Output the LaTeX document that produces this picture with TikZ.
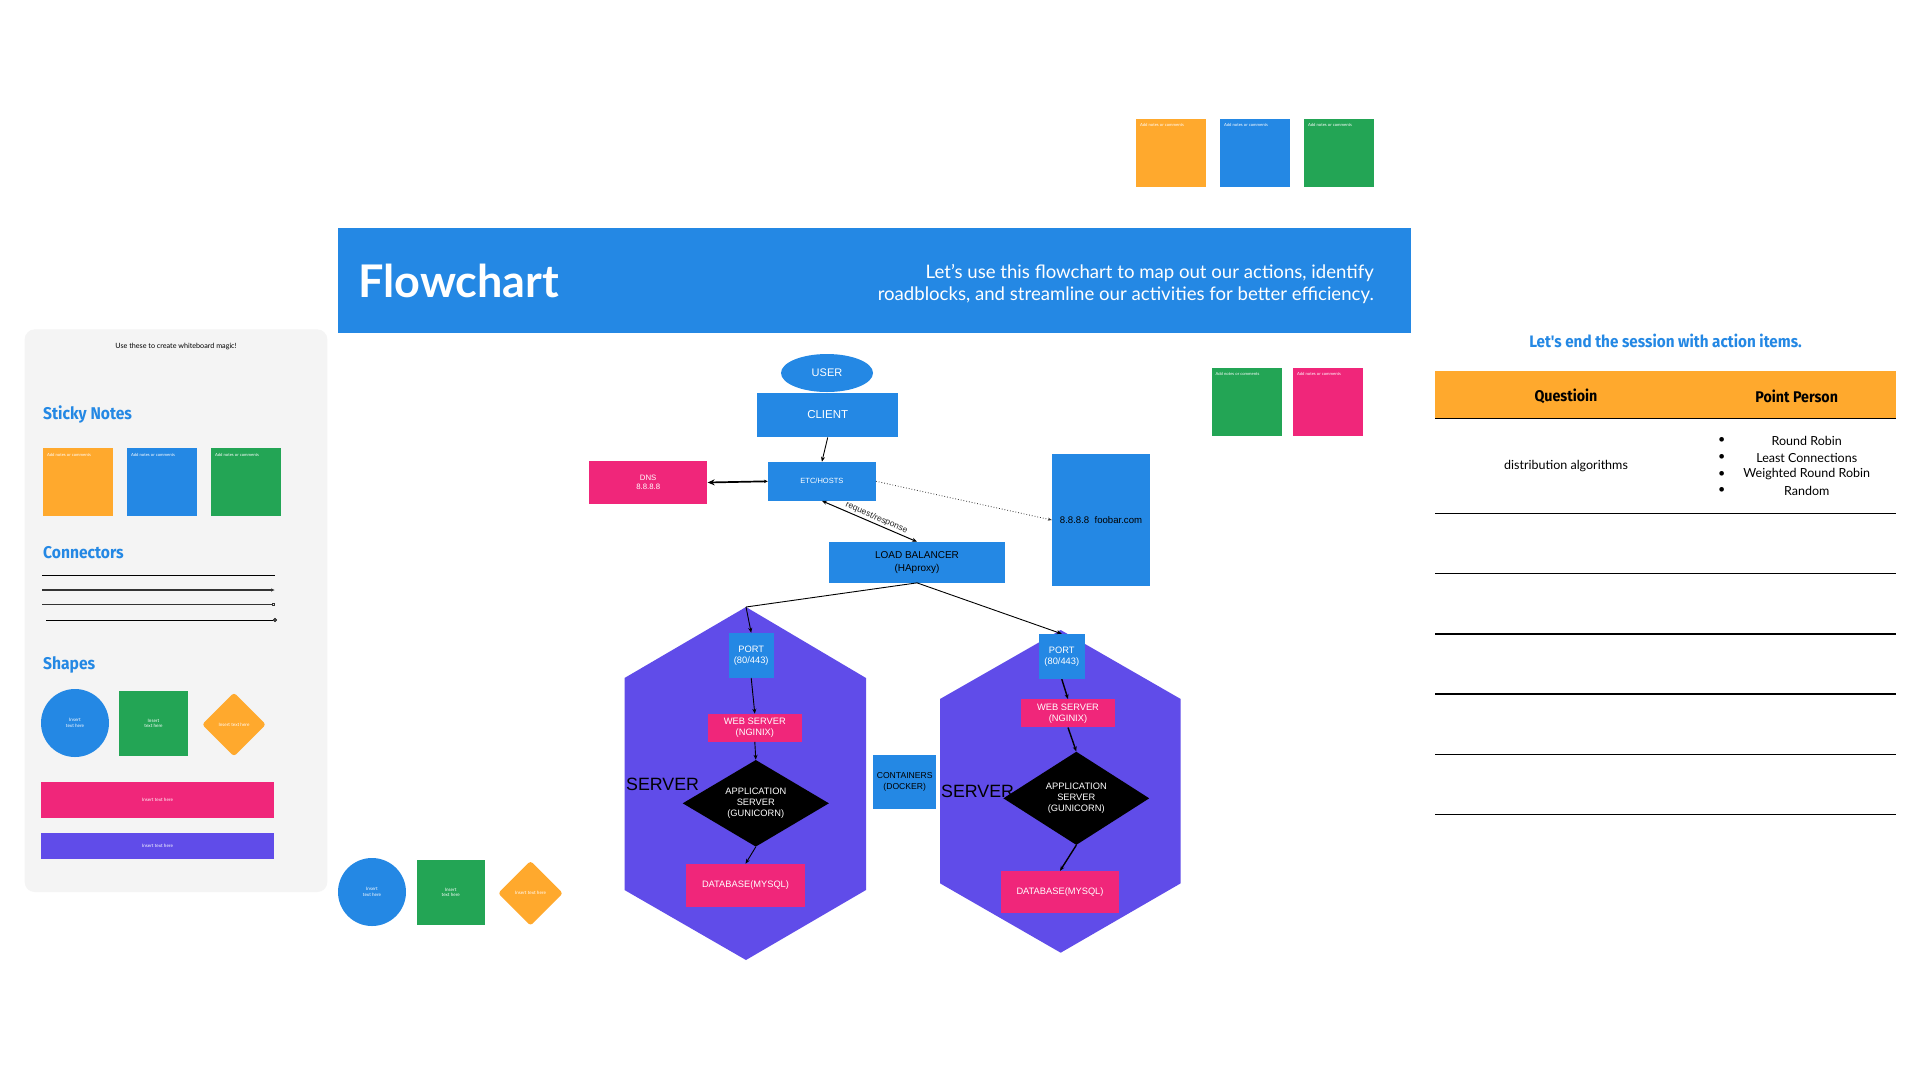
\documentclass[tikz,border=0pt]{standalone}
\usepackage{fontspec}
\setmainfont{Liberation Sans}
\newfontfamily\latofont{Lato}
\newfontfamily\headfont{Fira Sans}[FakeStretch=0.92]
\usetikzlibrary{shapes.geometric,arrows.meta}
\definecolor{mblue}{HTML}{2488E4}
\definecolor{morange}{HTML}{FFA92D}
\definecolor{mgreen}{HTML}{23A555}
\definecolor{mpink}{HTML}{F0267A}
\definecolor{mpurple}{HTML}{604CE9}
\definecolor{mpanel}{HTML}{F4F4F4}
\newcommand{\myfs}[2]{\fontsize{#1}{#2}\selectfont}
\newcommand{\stickynote}[3]{%
  \node[note, fill=#2] (#1) at (#3) {};
  \node[notetxt] (#1t) at ([xshift=4pt,yshift=-5pt]#1.north west) {Add notes or comments};}
\begin{document}
\begin{tikzpicture}[x=1pt,y=-1pt,
  box/.style={rectangle, inner sep=0pt, align=center, text=white},
  note/.style={rectangle, inner sep=0pt, minimum width=70, minimum height=68},
  notetxt/.style={anchor=north west, inner sep=0pt, text=white, font=\myfs{4.2}{5}\latofont},
  smalltxt/.style={text=white, align=center, font=\myfs{4.6}{5.6}\latofont},
  diag/.style={diamond, inner sep=0pt, aspect=1.7, fill=black, text=white, align=center, font=\myfs{9.3}{11}},
  arr/.style={-{Stealth[length=5pt,width=4pt]}, line width=0.9pt},
  twoarr/.style={{Stealth[length=5pt,width=4pt]}-{Stealth[length=5pt,width=4pt]}, line width=1pt},
  rowline/.style={line width=1.3pt},
  headtxt/.style={font=\myfs{17}{20}\headfont\bfseries, text=mblue, inner sep=0pt},
  bodytxt/.style={font=\myfs{12.5}{15}\latofont, inner sep=0pt}
]
\useasboundingbox (0,0) rectangle (1920,1080);
\fill[white] (0,0) rectangle (1920,1080);

% ---------- top sticky notes ----------
\stickynote{tn1}{morange}{1171,152.5}
\stickynote{tn2}{mblue}{1255,152.5}
\stickynote{tn3}{mgreen}{1339,152.5}

% ---------- banner ----------
\fill[mblue] (338,228) rectangle (1411,333);
\node[anchor=west, inner sep=0pt, text=white, font=\myfs{45}{52}\latofont\bfseries] (title) at (358,281) {Flowchart};
\node[anchor=east, inner sep=0pt, align=right, text=white, font=\myfs{18.6}{22}\latofont] (desc) at (1374,284)
  {Let’s use this flowchart to map out our actions, identify\\roadblocks, and streamline our activities for better efficiency.};

% ---------- left panel ----------
\fill[mpanel, rounded corners=10pt] (24.7,329.4) rectangle (327.3,892);
\node[inner sep=0pt, font=\myfs{7.2}{9}\latofont] (magic) at (176,346) {Use these to create whiteboard magic!};
\node[headtxt, anchor=west] (hsticky) at (43,414) {Sticky Notes};
\stickynote{pn1}{morange}{78,482}
\stickynote{pn2}{mblue}{162,482}
\stickynote{pn3}{mgreen}{246,482}
\node[headtxt, anchor=west] (hconn) at (43,553) {Connectors};
\coordinate (c1a) at (42,575);   \coordinate (c1b) at (275,575);
\coordinate (c2a) at (42,590);   \coordinate (c2b) at (275,590);
\coordinate (c3a) at (42,604.5); \coordinate (c3b) at (275,604.5);
\coordinate (c4a) at (46,620);   \coordinate (c4b) at (277,620);
\draw[line width=0.9pt] (c1a) -- (c1b);
\draw[line width=1.3pt, black!80, -{Latex[length=4pt,width=3.5pt]}] (c2a) -- (c2b);
\draw[line width=1.3pt, black!80, -{Square[open,length=3.5pt,width=3.5pt]}] (c3a) -- (c3b);
\draw[line width=0.9pt, -{Circle[open,length=4pt]}] (c4a) -- (c4b);
\node[headtxt, anchor=west] (hshapes) at (43,664.5) {Shapes};
\node[circle, fill=mblue, minimum size=68, inner sep=0pt, smalltxt] (ps1) at (75,723) {Insert\\text here};
\node[rectangle, fill=mgreen, minimum width=69, minimum height=65, inner sep=0pt, smalltxt] (ps2) at (153.5,723.5) {Insert\\text here};
\node[diamond, fill=morange, minimum width=64, minimum height=64, inner sep=0pt, rounded corners=3pt, smalltxt] (ps3) at (234,724.5) {Insert text here};
\node[rectangle, fill=mpink, minimum width=233, minimum height=36, inner sep=0pt, smalltxt] (ps4) at (157.5,800) {Insert text here};
\node[rectangle, fill=mpurple, minimum width=233, minimum height=26, inner sep=0pt, smalltxt] (ps5) at (157.5,846) {Insert text here};

% ---------- bottom-left shapes ----------
\node[circle, fill=mblue, minimum size=68, inner sep=0pt, smalltxt] (bs1) at (372,892) {Insert\\text here};
\node[rectangle, fill=mgreen, minimum width=68, minimum height=65, inner sep=0pt, smalltxt] (bs2) at (450.7,892.3) {Insert\\text here};
\node[diamond, fill=morange, minimum width=65, minimum height=65, inner sep=0pt, rounded corners=3pt, smalltxt] (bs3) at (530.5,893.3) {Insert text here};

% ---------- middle sticky notes ----------
\stickynote{mn1}{mgreen}{1246.5,401.7}
\stickynote{mn2}{mpink}{1328,401.7}

% ---------- hexagons ----------
\coordinate (lhtop) at (746,607);
\fill[mpurple] (lhtop) -- (866,678) -- (866,890) -- (746,960) -- (624.5,890) -- (624.5,678) -- cycle;
\coordinate (rhtop) at (1060.7,630);
\fill[mpurple] (rhtop) -- (1180.7,699) -- (1180.7,883.3) -- (1060.7,952.7) -- (940,883.3) -- (940,699) -- cycle;

% ---------- upper flow ----------
\node[ellipse, fill=mblue, minimum width=92, minimum height=38, inner sep=0pt, text=white, font=\myfs{11}{13}] (user) at (827,373) {USER};
\node[box, fill=mblue, minimum width=140.5, minimum height=44.6, font=\myfs{11.5}{13}] (client) at (827.7,415) {CLIENT};
\node[box, fill=mblue, minimum width=107.7, minimum height=38.7, font=\myfs{7.5}{9}] (etc) at (821.9,481.3) {ETC/HOSTS};
\node[box, fill=mpink, minimum width=118.5, minimum height=42.4, font=\myfs{7.8}{9.5}] (dns) at (648.2,482.5) {DNS\\8.8.8.8};
\node[box, fill=mblue, minimum width=176, minimum height=40.7, text=black, font=\myfs{10}{12.5}] (lb) at (917,562.3) {LOAD BALANCER\\(HAproxy)};
\node[box, fill=mblue, minimum width=98, minimum height=132, text=black, font=\myfs{9.6}{11}] (foo) at (1101,520) {8.8.8.8~~foobar.com};

\draw[arr] (client.south) -- (etc.north);
\draw[line width=1.7pt, {Stealth[length=7pt,width=6pt]}-{Stealth[length=4pt,width=3.5pt]}] (dns.east) -- (etc.west);
\draw[twoarr] (etc.south) -- node[sloped, above, pos=0.55, inner sep=1.5pt, text=black!85, font=\myfs{8.6}{10}] (rr) {request/response} (lb.north);
\draw[dotted, line width=0.8pt, black!80, -{Stealth[length=4pt,width=3pt]}] (etc.east) -- (foo.west);

% ---------- left server ----------
\node[box, fill=mblue, minimum width=45, minimum height=44.7, font=\myfs{9.3}{11}] (lport) at (751.2,655.3) {PORT\\(80/443)};
\node[box, fill=mpink, minimum width=93.7, minimum height=27.7, font=\myfs{9.3}{11}] (lweb) at (754.8,727.8) {WEB SERVER\\(NGINIX)};
\node[anchor=west, inner sep=0pt, font=\myfs{17.8}{20}] (lserver) at (626,784) {SERVER};
\node[diag, minimum width=146.3, minimum height=86.7] (lapp) at (755.8,803.3) {APPLICATION\\SERVER\\(GUNICORN)};
\node[box, fill=mpink, minimum width=119, minimum height=42.7, font=\myfs{9.3}{11}] (ldb) at (745.5,885.3) {DATABASE(MYSQL)};

\draw[line width=0.9pt] (lb.south) -- (lhtop);
\draw[arr] (lhtop) -- (lport.north);
\draw[arr] (lport.south) -- (lweb.north);
\draw[arr] (lweb.south) -- (lapp.north);
\draw[arr] (lapp.south) -- (ldb.north);

% ---------- right server ----------
\node[box, fill=mblue, minimum width=45.7, minimum height=45, font=\myfs{9.3}{11}] (rport) at (1061.8,656.5) {PORT\\(80/443)};
\node[box, fill=mpink, minimum width=94, minimum height=28, font=\myfs{9.3}{11}] (rweb) at (1068,713.3) {WEB SERVER\\(NGINIX)};
\node[anchor=west, inner sep=0pt, font=\myfs{17.8}{20}] (rserver) at (941,791.7) {SERVER};
\node[diag, minimum width=146, minimum height=93.3] (rapp) at (1076.3,798.3) {APPLICATION\\SERVER\\(GUNICORN)};
\node[box, fill=mpink, minimum width=118.6, minimum height=42.3, font=\myfs{9.3}{11}] (rdb) at (1060,892.2) {DATABASE(MYSQL)};

\draw[arr] (lb.south) -- (rport.north);
\draw[arr, line width=1.4pt] (rport.south) -- (rweb.north);
\draw[arr, line width=1.4pt] (rweb.south) -- (rapp.north);
\draw[arr, line width=1.4pt] (rapp.south) -- (rdb.north);

% ---------- containers ----------
\node[box, fill=mblue, minimum width=62.7, minimum height=53.3, text=black, font=\myfs{8.6}{10.5}] (cont) at (904.7,782) {CONTAINERS\\(DOCKER)};

% ---------- action items table ----------
\node[inner sep=0pt, font=\myfs{16.6}{20}\headfont\bfseries, text=mblue] (acttitle) at (1665.5,340.5) {Let's end the session with action items.};
\fill[morange] (1435,370.7) rectangle (1896,418.3);
\draw[line width=1.6pt] (1435,418.3) -- (1896,418.3);
\node[inner sep=0pt, font=\myfs{15.5}{18}\headfont\bfseries] (hq) at (1566,396) {Questioin};
\node[inner sep=0pt, font=\myfs{15.5}{18}\headfont\bfseries] (hp) at (1796.7,396) {Point Person};
\node[bodytxt] (q1) at (1566,466) {distribution algorithms};
\node[bodytxt] (b1) at (1721.7,440.7) {•};
\node[bodytxt] (b2) at (1721.7,457.7) {•};
\node[bodytxt] (b3) at (1721.7,474) {•};
\node[bodytxt] (b4) at (1721.7,490.7) {•};
\node[bodytxt] (p1) at (1806.7,440.7) {Round Robin};
\node[bodytxt] (p2) at (1806.7,457.7) {Least Connections};
\node[bodytxt] (p3) at (1806.7,474) {Weighted Round Robin};
\node[bodytxt] (p4) at (1806.7,490.7) {Random};
\foreach \yy in {513.3,573.3,634,694,754.3,814.3} {
  \draw[rowline] (1435,\yy) -- (1896,\yy);
}
\end{tikzpicture}
\end{document}
